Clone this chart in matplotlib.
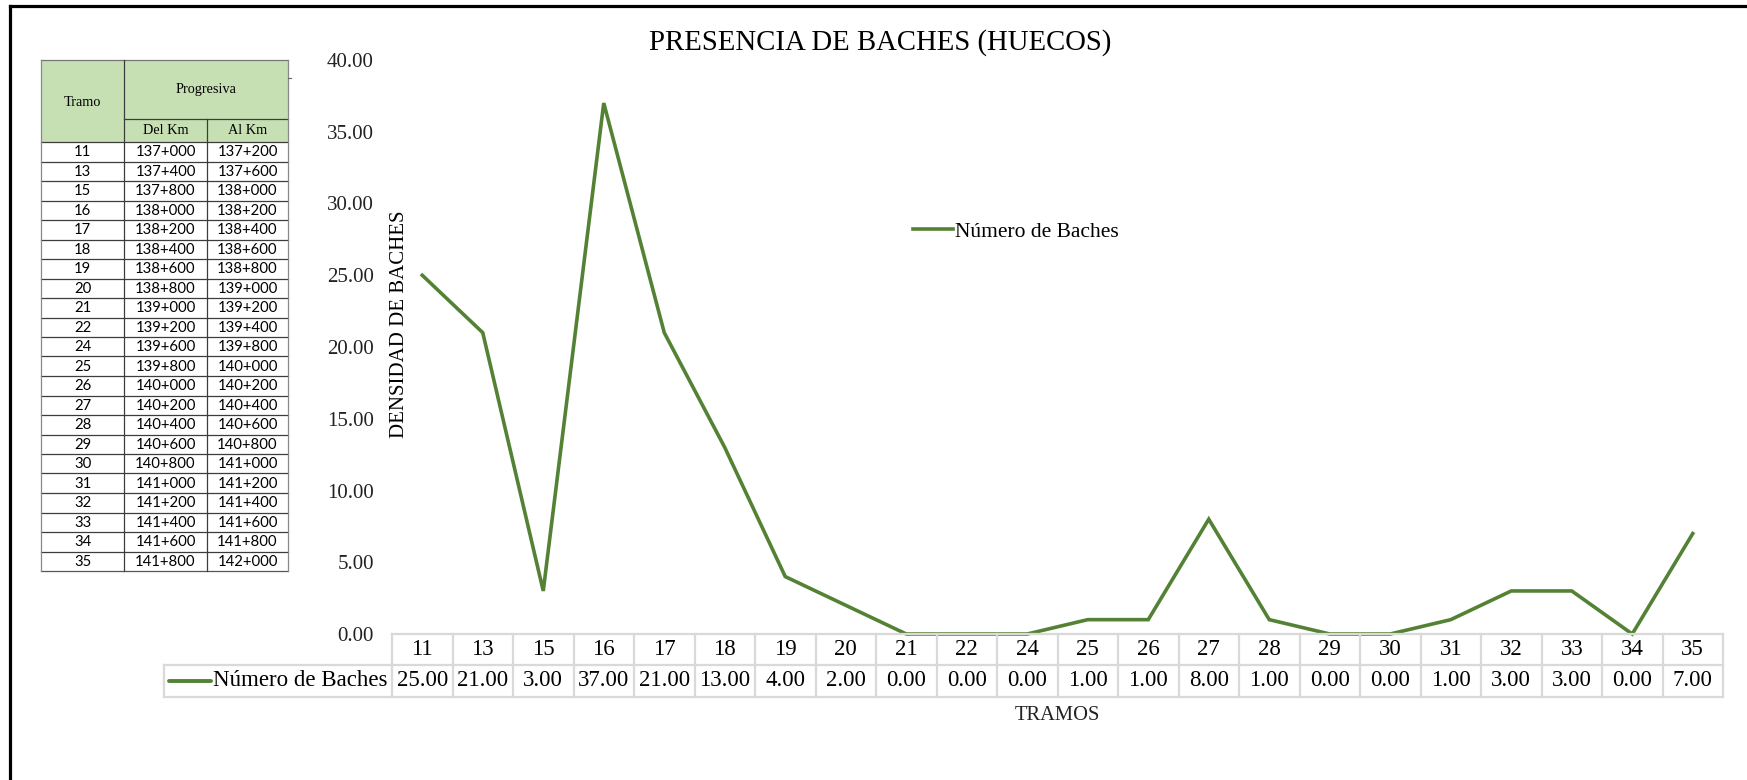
import matplotlib
matplotlib.use("Agg")
import matplotlib.pyplot as plt
from matplotlib.lines import Line2D
from matplotlib.patches import Rectangle
from matplotlib.transforms import blended_transform_factory

# ---------------- data ----------------
tramos = ["11", "13", "15", "16", "17", "18", "19", "20", "21", "22", "24",
          "25", "26", "27", "28", "29", "30", "31", "32", "33", "34", "35"]
baches = [25, 21, 3, 37, 21, 13, 4, 2, 0, 0, 0, 1, 1, 8, 1, 0, 0, 1, 3, 3, 0, 7]
del_km = ["137+000", "137+400", "137+800", "138+000", "138+200", "138+400",
          "138+600", "138+800", "139+000", "139+200", "139+600", "139+800",
          "140+000", "140+200", "140+400", "140+600", "140+800", "141+000",
          "141+200", "141+400", "141+600", "141+800"]
al_km = ["137+200", "137+600", "138+000", "138+200", "138+400", "138+600",
         "138+800", "139+000", "139+200", "139+400", "139+800", "140+000",
         "140+200", "140+400", "140+600", "140+800", "141+000", "141+200",
         "141+400", "141+600", "141+800", "142+000"]
y_ticks = [0, 5, 10, 15, 20, 25, 30, 35, 40]
series_name = "Número de Baches"
title = "PRESENCIA DE BACHES (HUECOS)"
ylabel = "DENSIDAD DE BACHES"
xlabel = "TRAMOS"

# ---------------- layout ----------------
W, H = 1747, 780
DPI = 100
SERIF = "Liberation Serif"
SANS = "Lato"
GREEN = "#548235"
GRID = "#D9D9D9"


def fx(px):
    return px / W


def fy(py):
    return 1 - py / H


fig = plt.figure(figsize=(W / DPI, H / DPI), dpi=DPI)
fig.patch.set_facecolor("white")

# outer frame (left and top black lines)
fig.add_artist(Line2D([fx(10), fx(10)], [fy(6), fy(780)], color="black", lw=2.3,
                      transform=fig.transFigure))
fig.add_artist(Line2D([fx(10), fx(1747)], [fy(6), fy(6)], color="black", lw=2.3,
                      transform=fig.transFigure))

# main axes
ax_l, ax_r, ax_t, ax_b = 392, 1723, 60, 634
ax = fig.add_axes([fx(ax_l), fy(ax_b), fx(ax_r - ax_l), (ax_b - ax_t) / H])
x = list(range(len(tramos)))
ax.plot(x, baches, color=GREEN, lw=2.6, solid_joinstyle="miter", label=series_name,
        clip_on=False)
ax.set_xlim(-0.5, len(tramos) - 0.5)
ax.set_ylim(0, 40)
ax.set_yticks(y_ticks)
ax.set_yticklabels([f"{v:.2f}" for v in y_ticks], fontfamily=SERIF, fontsize=15,
                   color="#222222")
ax.tick_params(axis="y", length=0, pad=13)
ax.set_xticks([])
for s in ax.spines.values():
    s.set_visible(False)
ax.patch.set_alpha(0)

# legend
leg = ax.legend(loc="center left", bbox_to_anchor=(fx(913), fy(232)),
                bbox_transform=fig.transFigure, frameon=False,
                prop={"family": SERIF, "size": 15.5}, handlelength=1.85,
                handletextpad=0.12, borderpad=0, borderaxespad=0)

# title and axis titles
fig.text(fx(880), fy(43), title, ha="center", va="center", fontfamily=SERIF,
         fontsize=20.7, color="black")
fig.text(fx(399), fy(324), ylabel, ha="center", va="center", rotation=90,
         fontfamily=SERIF, fontsize=15, color="black")
fig.text(fx(1057), fy(716), xlabel, ha="center", va="center", fontfamily=SERIF,
         fontsize=14.8, color="#222222")

# ---------------- data table under the axis ----------------
bt = blended_transform_factory(ax.transData, fig.transFigure)
r0, r1, r2 = 634, 665, 697
n = len(tramos)
lw_t = 1.6
TFS = 16.5
fig.add_artist(Line2D([-0.5, n - 0.5], [fy(r0), fy(r0)], color=GRID, lw=lw_t, transform=bt))
fig.add_artist(Line2D([fx(164), fx(ax_r)], [fy(r1), fy(r1)], color=GRID, lw=lw_t,
                      transform=fig.transFigure))
fig.add_artist(Line2D([fx(164), fx(ax_r)], [fy(r2), fy(r2)], color=GRID, lw=lw_t,
                      transform=fig.transFigure))
fig.add_artist(Line2D([fx(164), fx(164)], [fy(r1), fy(r2)], color=GRID, lw=lw_t,
                      transform=fig.transFigure))
for i in range(n + 1):
    xe = i - 0.5
    fig.add_artist(Line2D([xe, xe], [fy(r0), fy(r2)], color=GRID, lw=lw_t, transform=bt))
for i, (t, v) in enumerate(zip(tramos, baches)):
    fig.text(i, fy((r0 + r1) / 2), t, transform=bt, ha="center", va="center",
             fontfamily=SERIF, fontsize=TFS, color="black")
    fig.text(i, fy((r1 + r2) / 2), f"{v:.2f}", transform=bt, ha="center", va="center",
             fontfamily=SERIF, fontsize=TFS, color="black")
# legend key in table
fig.add_artist(Line2D([fx(169), fx(211)], [fy(681), fy(681)], color=GREEN, lw=2.8,
                      solid_capstyle="round", transform=fig.transFigure))
fig.text(fx(213), fy(681), series_name, ha="left", va="center", fontfamily=SERIF,
         fontsize=TFS, color="black")

# ---------------- left reference table ----------------
c0, c1, c2, c3 = 41, 124, 207, 288
t_top, t_mid, t_hdr = 60, 119, 142
row_h = 19.5
TB = "#3c3c3c"
fig.add_artist(Rectangle((fx(c0), fy(t_hdr)), fx(c3 - c0), (t_hdr - t_top) / H,
                         facecolor="#C6E0B4", edgecolor="none",
                         transform=fig.transFigure))


def hline(x0, x1, y, lw=0.9, color=TB):
    fig.add_artist(Line2D([fx(x0), fx(x1)], [fy(y), fy(y)], color=color, lw=lw,
                          transform=fig.transFigure))


def vline(xp, y0, y1, lw=0.9, color=TB):
    fig.add_artist(Line2D([fx(xp), fx(xp)], [fy(y0), fy(y1)], color=color, lw=lw,
                          transform=fig.transFigure))


n_rows = len(tramos)
t_bot = t_hdr + row_h * n_rows
hline(c0, c3, t_top, color="#777777")
hline(c1, c3, t_mid)
hline(c0, c3, t_hdr)
for k in range(1, n_rows + 1):
    hline(c0, c3, t_hdr + k * row_h, color="#555555" if k == n_rows else TB)
vline(c0, t_top, t_bot, color="#888888")
vline(c1, t_top, t_bot)
vline(c2, t_mid, t_bot)
vline(c3, t_top, t_bot, color="#888888")
hline(c3, c3 + 3, 78, lw=0.8, color="#666666")

HFS = 10.3
fig.text(fx((c0 + c1) / 2), fy(102), "Tramo", ha="center", va="center",
         fontfamily=SERIF, fontsize=HFS, color="black")
fig.text(fx((c1 + c3) / 2), fy(90), "Progresiva", ha="center", va="center",
         fontfamily=SERIF, fontsize=HFS, color="black")
fig.text(fx((c1 + c2) / 2), fy(131), "Del Km", ha="center", va="center",
         fontfamily=SERIF, fontsize=HFS, color="black")
fig.text(fx((c2 + c3) / 2), fy(131), "Al Km", ha="center", va="center",
         fontfamily=SERIF, fontsize=HFS, color="black")
for k, (t, d, a) in enumerate(zip(tramos, del_km, al_km)):
    yc = fy(t_hdr + (k + 0.5) * row_h + 0.5)
    fig.text(fx((c0 + c1) / 2), yc, t, ha="center", va="center", fontfamily=SANS,
             fontsize=10.7, color="black")
    fig.text(fx((c1 + c2) / 2), yc, d, ha="center", va="center", fontfamily=SANS,
             fontsize=10.7, color="black")
    fig.text(fx((c2 + c3) / 2), yc, a, ha="center", va="center", fontfamily=SANS,
             fontsize=10.7, color="black")

fig.savefig("out.png", dpi=DPI, facecolor="white")
